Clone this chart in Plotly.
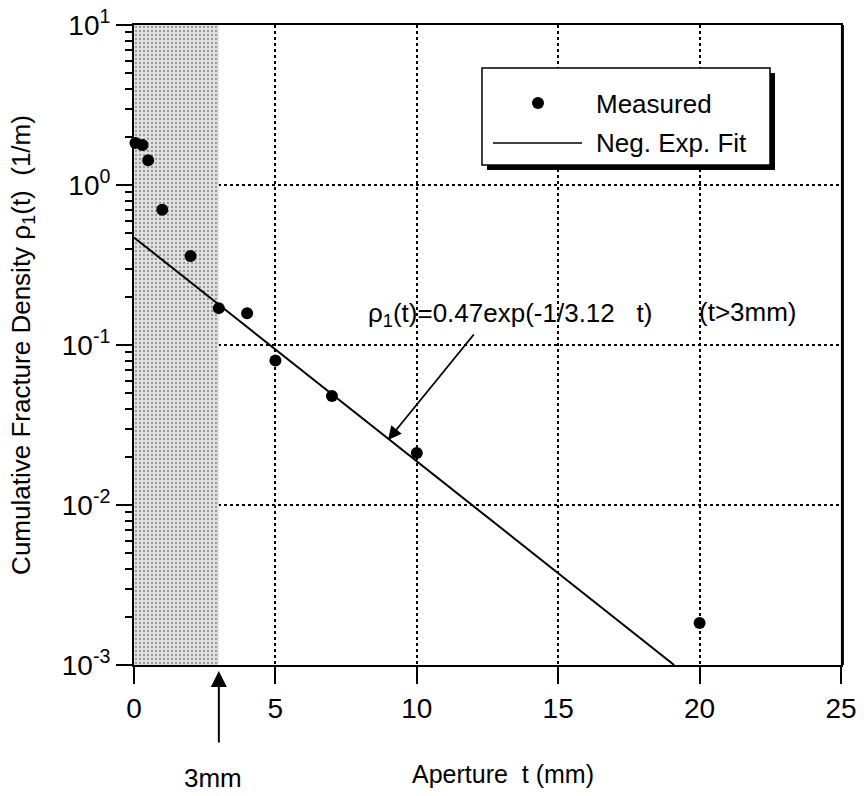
import plotly.graph_objects as go

# ---- data ----
aperture_mm = [0.05, 0.3, 0.5, 1, 2, 3, 4, 5, 7, 10, 20]
density_measured = [1.83, 1.78, 1.43, 0.70, 0.36, 0.170, 0.158, 0.080, 0.048, 0.0211, 0.00183]

fit_t = [0.0, 19.1]
fit_rho = [0.47, 0.001]

shade_t = [0, 3, 3, 0, 0]
shade_rho = [0.001, 0.001, 10, 10, 0.001]

x_ticks = [0, 5, 10, 15, 20, 25]
y_ticks = [1e-3, 1e-2, 1e-1, 1, 10]
y_ticktext = ["10<sup>-3</sup>", "10<sup>-2</sup>", "10<sup>-1</sup>", "10<sup>0</sup>", "10<sup>1</sup>"]
y_minor = [m * 10 ** e for e in (-3, -2, -1, 0) for m in range(2, 10)]

FONT = "Liberation Sans, Arial, Helvetica, sans-serif"
W, H = 864, 796
L, R, T, B = 134, 841, 25, 665


def px(xp):
    return (xp - L) / (R - L)


def py(yp):
    return (B - yp) / (B - T)


fig = go.Figure()

fig.add_trace(go.Scatter(
    x=shade_t, y=shade_rho, mode="none", fill="toself",
    fillcolor="#dcdcdc",
    fillpattern=dict(shape=".", fgcolor="#444444", bgcolor="#e2e2e2", size=4, solidity=0.25),
    showlegend=False, hoverinfo="skip"))

fig.add_trace(go.Scatter(
    x=fit_t, y=fit_rho, mode="lines",
    line=dict(color="black", width=2), showlegend=False))

fig.add_trace(go.Scatter(
    x=aperture_mm, y=density_measured, mode="markers",
    marker=dict(color="black", size=12), showlegend=False, cliponaxis=False))

# ---- custom legend box with drop shadow ----
lx0, lx1, ly0, ly1 = 482, 770, 68, 165
shapes = [
    dict(type="rect", xref="paper", yref="paper",
         x0=px(lx0 + 5), x1=px(lx1 + 5), y0=py(ly1 + 5), y1=py(ly0 + 5),
         fillcolor="black", line=dict(width=0), layer="above"),
    dict(type="rect", xref="paper", yref="paper",
         x0=px(lx0), x1=px(lx1), y0=py(ly1), y1=py(ly0),
         fillcolor="white", line=dict(color="black", width=1.5), layer="above"),
    dict(type="circle", xref="paper", yref="paper",
         x0=px(532), x1=px(544), y0=py(109), y1=py(97),
         fillcolor="black", line=dict(color="black", width=0), layer="above"),
    dict(type="line", xref="paper", yref="paper",
         x0=px(493), x1=px(582), y0=py(143), y1=py(143),
         line=dict(color="black", width=1.5), layer="above"),
    # heavier right frame edge
    dict(type="line", xref="paper", yref="paper", x0=1.002, x1=1.002, y0=0, y1=1,
         line=dict(color="black", width=3)),
]

TXT = 26
annotations = [
    dict(text="Measured", xref="paper", yref="paper", x=px(594), y=py(104),
         xanchor="left", yanchor="middle", showarrow=False,
         font=dict(size=TXT, family=FONT, color="black")),
    dict(text="Neg. Exp. Fit", xref="paper", yref="paper", x=px(594), y=py(143),
         xanchor="left", yanchor="middle", showarrow=False,
         font=dict(size=TXT, family=FONT, color="black")),
    dict(text="ρ<sub>1</sub>(t)=0.47exp(-1/3.12&nbsp;&nbsp; t)", xref="paper", yref="paper",
         x=px(366), y=py(314), xanchor="left", yanchor="middle", showarrow=False,
         font=dict(size=TXT, family=FONT, color="black")),
    dict(text="(t>3mm)", xref="paper", yref="paper",
         x=px(697), y=py(312), xanchor="left", yanchor="middle", showarrow=False,
         font=dict(size=TXT, family=FONT, color="black")),
    dict(text="", xref="paper", yref="paper", x=px(388), y=py(440),
         axref="pixel", ayref="pixel", ax=475 - 388, ay=333 - 440,
         showarrow=True, arrowhead=2, arrowsize=1.5, arrowwidth=1.8, arrowcolor="black"),
    dict(text="", xref="x", yref="paper", x=3, y=py(671),
         axref="pixel", ayref="pixel", ax=0, ay=744 - 671,
         showarrow=True, arrowhead=2, arrowsize=1.6, arrowwidth=2, arrowcolor="black"),
    dict(text="3mm", xref="paper", yref="paper", x=px(213), y=py(778),
         xanchor="center", yanchor="middle", showarrow=False,
         font=dict(size=TXT, family=FONT, color="black")),
    dict(text="Aperture&nbsp; t (mm)", xref="paper", yref="paper", x=px(503), y=py(774),
         xanchor="center", yanchor="middle", showarrow=False,
         font=dict(size=25, family=FONT, color="black")),
]

fig.update_layout(
    width=W, height=H,
    margin=dict(l=L, r=W - R, t=T, b=H - B, autoexpand=False),
    paper_bgcolor="white", plot_bgcolor="white",
    showlegend=False,
    shapes=shapes, annotations=annotations,
    font=dict(family=FONT, color="black"),
)

fig.update_xaxes(
    range=[0, 25], tickvals=x_ticks, ticks="outside", ticklen=17, tickwidth=2, tickcolor="black",
    showline=True, linewidth=2, linecolor="black", mirror=True,
    showgrid=True, gridcolor="black", griddash="dot", gridwidth=1.5,
    zeroline=False, ticklabeloverflow="allow",
    tickfont=dict(size=28, family=FONT, color="black"))

fig.update_yaxes(
    type="log", range=[-3, 1], tickvals=y_ticks, ticktext=y_ticktext,
    ticks="outside", ticklen=16, tickwidth=2, tickcolor="black",
    minor=dict(tickvals=y_minor, ticks="outside", ticklen=7, tickwidth=1.5, tickcolor="black", showgrid=False),
    showline=True, linewidth=2, linecolor="black", mirror=True,
    showgrid=True, gridcolor="black", griddash="dot", gridwidth=1.5,
    zeroline=False, ticklabeloverflow="allow",
    tickfont=dict(size=28, family=FONT, color="black"),
    title=dict(text="Cumulative Fracture Density ρ<sub>1</sub>(t)&nbsp; (1/m)",
               font=dict(size=TXT, family=FONT, color="black"), standoff=24))

fig.write_html("out.html", config={"displayModeBar": False},
               post_script="document.body.style.margin='0px';")
